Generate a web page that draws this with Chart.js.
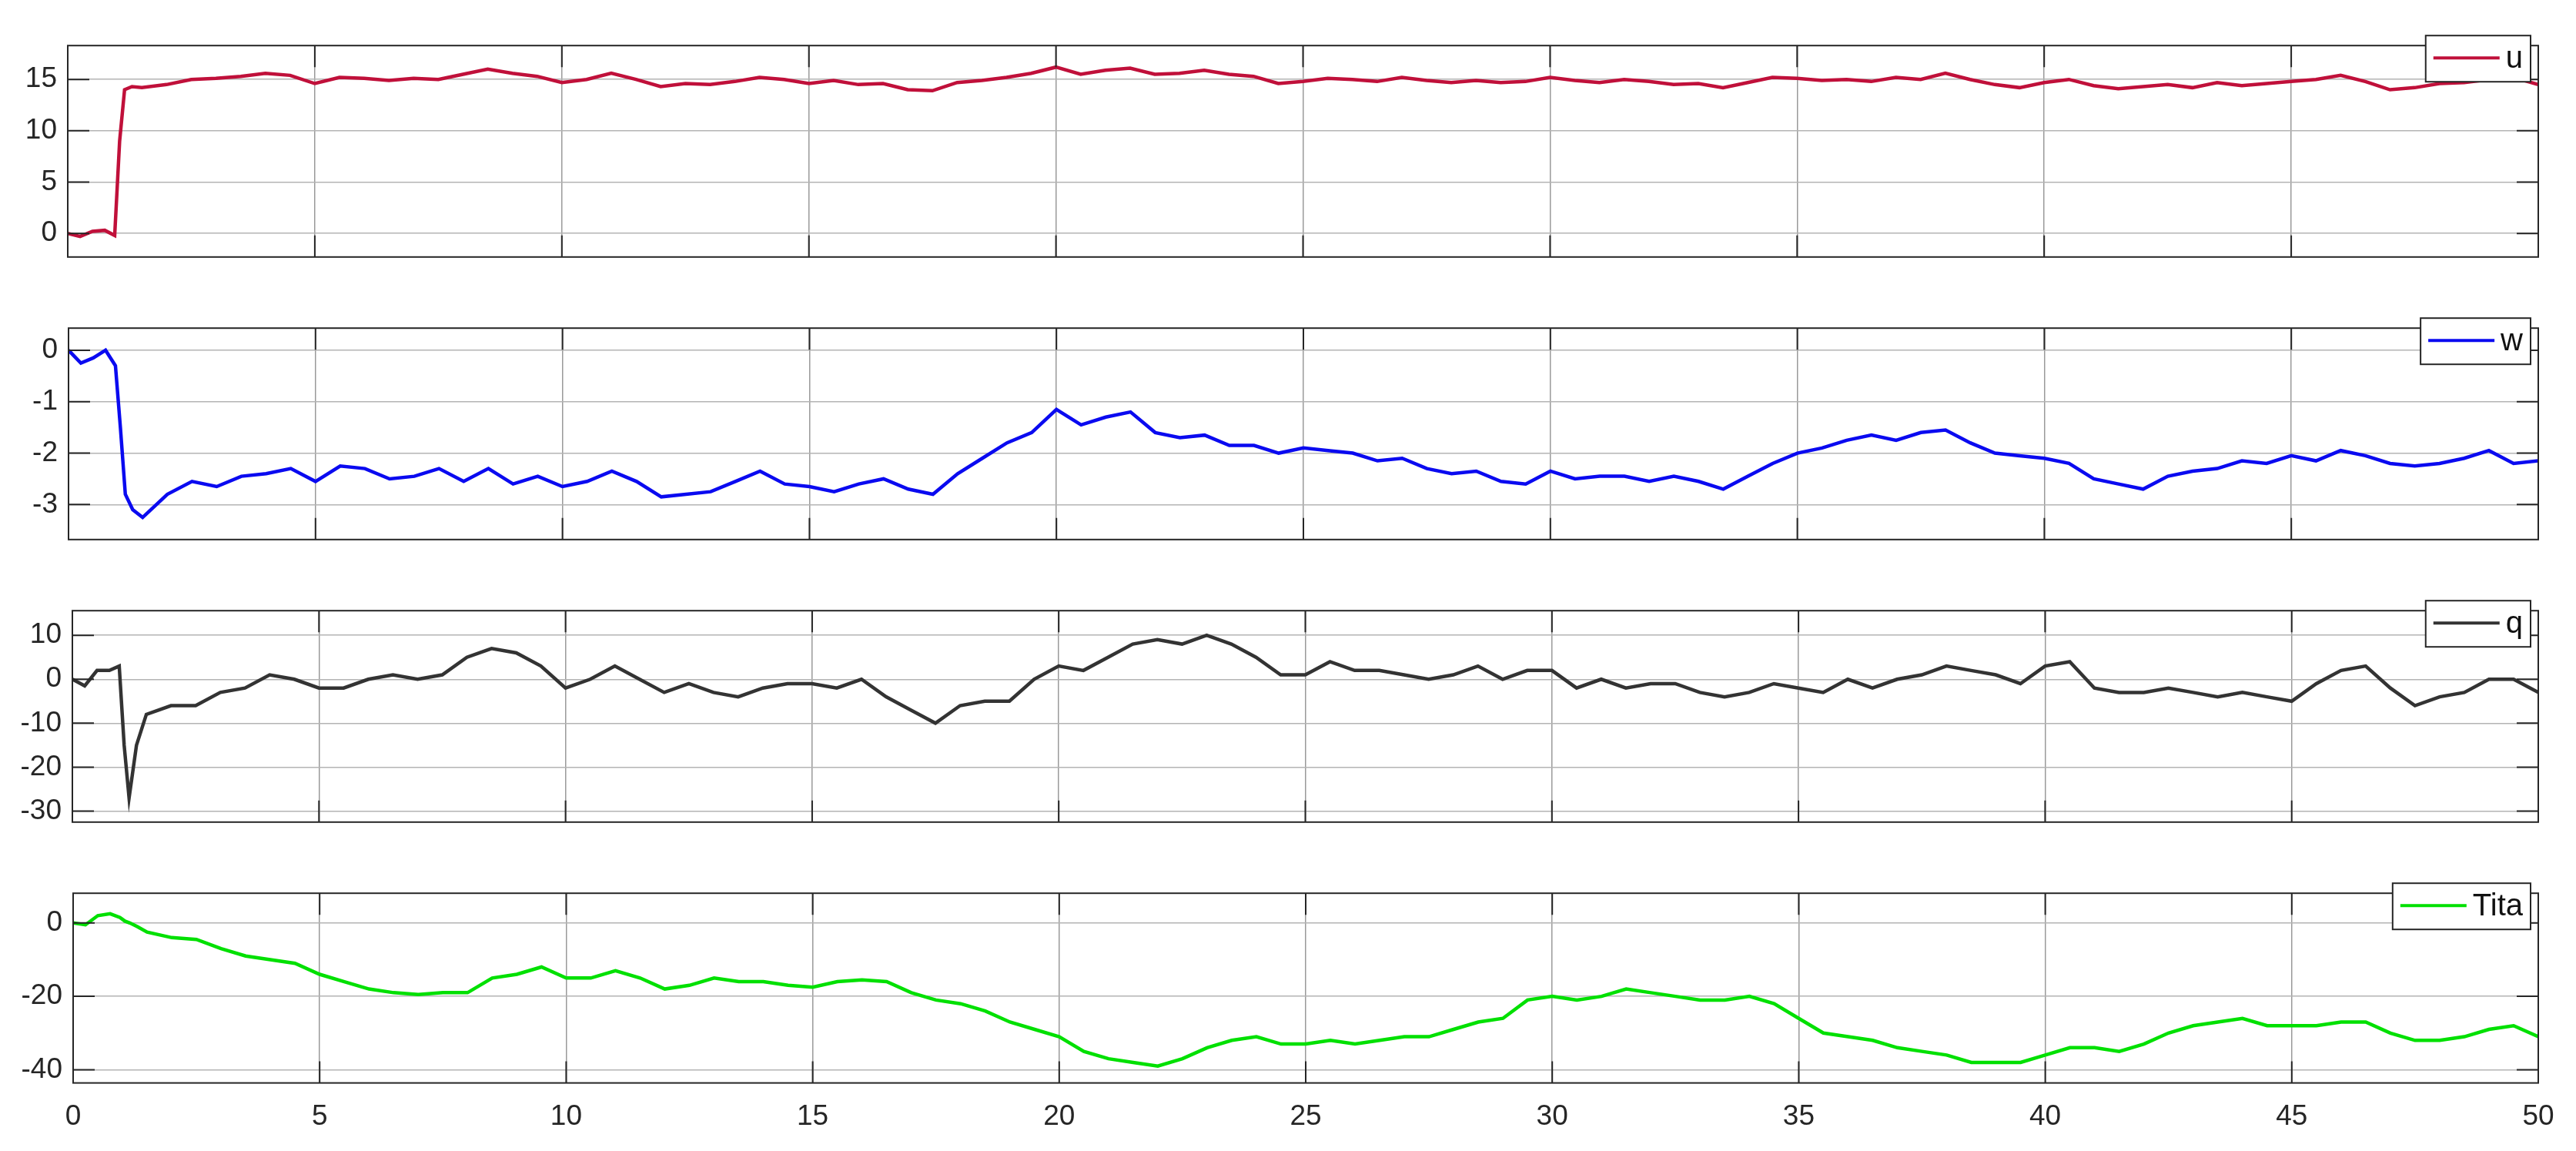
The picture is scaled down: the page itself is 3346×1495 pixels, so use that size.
<!DOCTYPE html>
<html><head><meta charset="utf-8">
<script src="https://cdn.jsdelivr.net/npm/chart.js@4"></script>
<style>html,body{margin:0;padding:0;background:#fff;width:3346px;height:1495px;overflow:hidden}
canvas{position:absolute;left:0}</style></head>
<body>
<div id="wrap"></div>
<script>
const time = [0,0.25,0.5,0.75,0.95,1.05,1.15,1.3,1.5,2,2.5,3,3.5,4,4.5,5,5.5,6,6.5,7,7.5,8,8.5,9,9.5,10,10.5,11,11.5,12,12.5,13,13.5,14,14.5,15,15.5,16,16.5,17,17.5,18,18.5,19,19.5,20,20.5,21,21.5,22,22.5,23,23.5,24,24.5,25,25.5,26,26.5,27,27.5,28,28.5,29,29.5,30,30.5,31,31.5,32,32.5,33,33.5,34,34.5,35,35.5,36,36.5,37,37.5,38,38.5,39,39.5,40,40.5,41,41.5,42,42.5,43,43.5,44,44.5,45,45.5,46,46.5,47,47.5,48,48.5,49,49.5,50];
const u = [0,-0.3,0.2,0.3,-0.2,9,14,14.3,14.2,14.5,15,15.1,15.3,15.6,15.4,14.6,15.2,15.1,14.9,15.1,15.0,15.5,16.0,15.6,15.3,14.7,15.0,15.6,15.0,14.3,14.6,14.5,14.8,15.2,15.0,14.6,14.9,14.5,14.6,14.0,13.9,14.7,14.9,15.2,15.6,16.2,15.5,15.9,16.1,15.5,15.6,15.9,15.5,15.3,14.6,14.8,15.1,15.0,14.8,15.2,14.9,14.7,14.9,14.7,14.8,15.2,14.9,14.7,15.0,14.8,14.5,14.6,14.2,14.7,15.2,15.1,14.9,15.0,14.8,15.2,15.0,15.6,15.0,14.5,14.2,14.7,15.0,14.4,14.1,14.3,14.5,14.2,14.7,14.4,14.6,14.8,15.0,15.4,14.8,14.0,14.2,14.6,14.7,15.0,15.2,14.5];
const w = [0,-0.25,-0.15,0,-0.3,-1.5,-2.8,-3.1,-3.25,-2.8,-2.55,-2.65,-2.45,-2.4,-2.3,-2.55,-2.25,-2.3,-2.5,-2.45,-2.3,-2.55,-2.3,-2.6,-2.45,-2.65,-2.55,-2.35,-2.55,-2.85,-2.8,-2.75,-2.55,-2.35,-2.6,-2.65,-2.75,-2.6,-2.5,-2.7,-2.8,-2.4,-2.1,-1.8,-1.6,-1.15,-1.45,-1.3,-1.2,-1.6,-1.7,-1.65,-1.85,-1.85,-2.0,-1.9,-1.95,-2.0,-2.15,-2.1,-2.3,-2.4,-2.35,-2.55,-2.6,-2.35,-2.5,-2.45,-2.45,-2.55,-2.45,-2.55,-2.7,-2.45,-2.2,-2.0,-1.9,-1.75,-1.65,-1.75,-1.6,-1.55,-1.8,-2.0,-2.05,-2.1,-2.2,-2.5,-2.6,-2.7,-2.45,-2.35,-2.3,-2.15,-2.2,-2.05,-2.15,-1.95,-2.05,-2.2,-2.25,-2.2,-2.1,-1.95,-2.2,-2.15];
const q = [0,-1.5,2,2,3,-15,-27,-15,-8,-6,-6,-3,-2,1,0,-2,-2,0,1,0,1,5,7,6,3,-2,0,3,0,-3,-1,-3,-4,-2,-1,-1,-2,0,-4,-7,-10,-6,-5,-5,0,3,2,5,8,9,8,10,8,5,1,1,4,2,2,1,0,1,3,0,2,2,-2,0,-2,-1,-1,-3,-4,-3,-1,-2,-3,0,-2,0,1,3,2,1,-1,3,4,-2,-3,-3,-2,-3,-4,-3,-4,-5,-1,2,3,-2,-6,-4,-3,0,0,-3];
const tita = [0,-0.5,2,2.5,1.5,0.5,0,-1,-2.5,-4,-4.5,-7,-9,-10,-11,-14,-16,-18,-19,-19.5,-19,-19,-15,-14,-12,-15,-15,-13,-15,-18,-17,-15,-16,-16,-17,-17.5,-16,-15.5,-16,-19,-21,-22,-24,-27,-29,-31,-35,-37,-38,-39,-37,-34,-32,-31,-33,-33,-32,-33,-32,-31,-31,-29,-27,-26,-21,-20,-21,-20,-18,-19,-20,-21,-21,-20,-22,-26,-30,-31,-32,-34,-35,-36,-38,-38,-38,-36,-34,-34,-35,-33,-30,-28,-27,-26,-28,-28,-28,-27,-27,-30,-32,-32,-31,-29,-28,-31];
const xTicks = [0,5,10,15,20,25,30,35,40,45,50];
const uTicks = [0,5,10,15], wTicks = [-3,-2,-1,0], qTicks = [-30,-20,-10,0,10], titaTicks = [-40,-20,0];

const panels = [
 {name:'u', data:u, color:'#C0103A', ticks:uTicks, min:-2.3, max:18.3, top:43, bottom:370, left:88},
 {name:'w', data:w, color:'#0A0AF0', ticks:wTicks, min:-3.68, max:0.43, top:410, bottom:737, left:89},
 {name:'q', data:q, color:'#333333', ticks:qTicks, min:-32.5, max:15.6, top:777, bottom:1104, left:94},
 {name:'Tita', data:tita, color:'#00E000', ticks:titaTicks, min:-43.6, max:8.1, top:1144, bottom:1418, left:95}
];
const FAM = 'Arial, "Liberation Sans", sans-serif';
const PADTOP = 20;
const wrap = document.getElementById('wrap');
panels.forEach((p, i) => {
  const last = i === panels.length - 1;
  const c = document.createElement('canvas');
  const top = p.top - PADTOP;
  const h = last ? 1495 - top : (p.bottom - top);
  c.style.top = top + 'px'; c.style.width = '3346px'; c.style.height = h + 'px';
  c.width = 3346; c.height = h;
  wrap.appendChild(c);
  const boxPlugin = {
    id: 'box' + i,
    afterDatasetsDraw(chart) {
      const ctx = chart.ctx, a = chart.chartArea;
      ctx.save();
      // inward tick marks
      ctx.strokeStyle = '#262626'; ctx.lineWidth = 2;
      const ys = chart.scales.y, xs = chart.scales.x;
      p.ticks.forEach(v => { const y = ys.getPixelForValue(v); ctx.beginPath(); ctx.moveTo(a.left, y); ctx.lineTo(a.left + 28, y); ctx.moveTo(a.right, y); ctx.lineTo(a.right - 28, y); ctx.stroke(); });
      xTicks.forEach(v => { const x = xs.getPixelForValue(v); ctx.beginPath(); ctx.moveTo(x, a.bottom); ctx.lineTo(x, a.bottom - 28); ctx.moveTo(x, a.top); ctx.lineTo(x, a.top + 28); ctx.stroke(); });
      ctx.strokeRect(a.left, a.top, a.right - a.left, a.bottom - a.top);
      // legend
      ctx.font = '40px ' + FAM;
      const tw = ctx.measureText(p.name).width;
      const bw = 10 + 86 + 8 + tw + 10, bh = 60;
      const bx = a.right - 10 - bw, by = a.top - 13;
      ctx.fillStyle = '#fff'; ctx.fillRect(bx, by, bw, bh);
      ctx.strokeStyle = '#262626'; ctx.lineWidth = 2; ctx.strokeRect(bx, by, bw, bh);
      ctx.strokeStyle = p.color; ctx.lineWidth = 4;
      ctx.beginPath(); ctx.moveTo(bx + 10, by + bh/2 - 1); ctx.lineTo(bx + 96, by + bh/2 - 1); ctx.stroke();
      ctx.fillStyle = '#111'; ctx.textBaseline = 'middle';
      ctx.fillText(p.name, bx + 104, by + bh/2 + 1);
      ctx.restore();
    }
  };
  new Chart(c, {
    type: 'line',
    data: { datasets: [{ label: p.name, data: time.map((t, k) => ({x: t, y: p.data[k]})),
      borderColor: p.color, borderWidth: 4.5, pointRadius: 0, tension: 0 }] },
    options: {
      responsive: false, animation: false, devicePixelRatio: 1,
      layout: { padding: { top: PADTOP, right: 49, left: 0, bottom: 0 } },
      plugins: { legend: { display: false }, tooltip: { enabled: false } },
      scales: {
        x: { type: 'linear', min: 0, max: 50,
          afterBuildTicks: s => { s.ticks = xTicks.map(v => ({value: v})); },
          grid: { color: '#9a9a9a', lineWidth: 1.5, drawTicks: false },
          border: { display: false },
          ticks: { display: last, color: '#262626', font: { size: 37, family: FAM }, padding: 22, maxRotation: 0 } },
        y: { min: p.min, max: p.max,
          afterBuildTicks: s => { s.ticks = p.ticks.map(v => ({value: v})); },
          afterFit: s => { s.width = p.left; },
          grid: { color: '#b4b4b4', lineWidth: 1.5, drawTicks: false },
          border: { display: false },
          ticks: { color: '#262626', font: { size: 37, family: FAM }, padding: 14 } }
      }
    },
    plugins: [boxPlugin]
  });
});
</script>
</body></html>
